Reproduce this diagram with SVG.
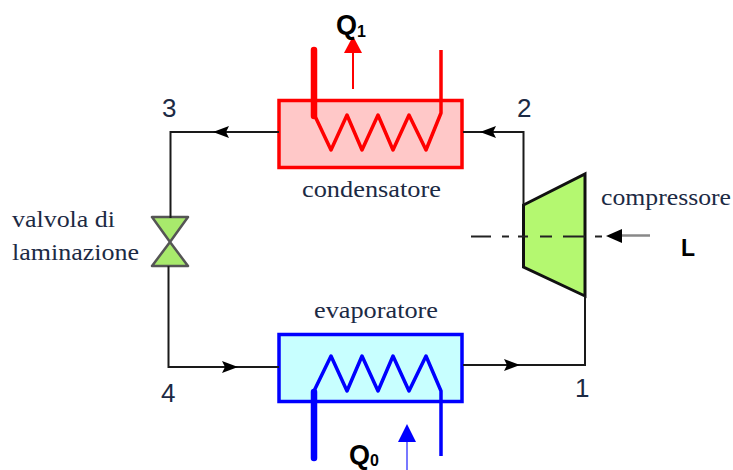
<svg xmlns="http://www.w3.org/2000/svg" width="733" height="470" viewBox="0 0 733 470">
<style>
.pipe{fill:none;stroke:#1a1a1a;stroke-width:2}
.ser{font-family:"Liberation Serif",serif;font-size:24px;fill:#1c2a44}
.num{font-family:"Liberation Sans",sans-serif;font-size:26px;fill:#1c2a44}
.bold{font-family:"Liberation Sans",sans-serif;font-weight:700;font-size:27px;fill:#000}
.sub{font-size:16px}
.arr{fill:#000}
</style>
<rect width="733" height="470" fill="#fff"/>
<g id="condensatore">
<rect x="279" y="100.500" width="183" height="67" fill="#ffc8c8" stroke="#f00" stroke-width="3.500"/>
<path d="M314 114L331 150L347 115L362 150L378 115L393 150L409 115L426 150L441 113V50" fill="none" stroke="#f00" stroke-width="3.500" stroke-linejoin="round"/>
<path d="M314 50V116" fill="none" stroke="#f00" stroke-width="6.500" stroke-linecap="round"/>
<text class="ser" x="302" y="197" textLength="139" lengthAdjust="spacingAndGlyphs">condensatore</text>
</g>
<g id="Q1">
<path d="M353 89V50" stroke="#f00" stroke-width="2" fill="none"/>
<polygon points="344,53 353,36 362,53" fill="#f00"/>
<text class="bold" x="336" y="34">Q<tspan class="sub" dy="3">1</tspan></text>
</g>
<g id="evaporatore">
<rect x="279" y="334.500" width="183" height="67" fill="#c8ffff" stroke="#00f" stroke-width="3.500"/>
<path d="M314 391L331 356L347 391L362 356L378 391L393 356L409 391L426 356L441 391V456" fill="none" stroke="#00f" stroke-width="3.500" stroke-linejoin="round"/>
<path d="M314 392V458" fill="none" stroke="#00f" stroke-width="6.500" stroke-linecap="round"/>
<text class="ser" x="314" y="318" textLength="124" lengthAdjust="spacingAndGlyphs">evaporatore</text>
</g>
<g id="Q0">
<path d="M407 440V470" stroke="#7878ff" stroke-width="2" fill="none"/>
<polygon points="398,442 407,424 416,442" fill="#00f"/>
<text class="bold" x="349" y="464">Q<tspan class="sub" dy="2">0</tspan></text>
</g>
<g id="compressore">
<polygon points="523.500,205 585,174 585,296 523.500,267" fill="#b4f870" stroke="#111" stroke-width="3"/>
<text class="ser" x="601" y="205" textLength="130" lengthAdjust="spacingAndGlyphs">compressore</text>
<text class="bold" x="681" y="256" style="font-size:23px">L</text>
</g>
<g id="valvola">
<polygon points="152,217 188,217 170,242 188,266 152,266 170,242" fill="#a8ea6c" stroke="#555" stroke-width="2.500" stroke-linejoin="round"/>
<text class="ser" x="12" y="227" textLength="103" lengthAdjust="spacingAndGlyphs">valvola di</text>
<text class="ser" x="12" y="260" textLength="127" lengthAdjust="spacingAndGlyphs">laminazione</text>
</g>
<g id="labels">
<text class="num" x="162" y="117">3</text>
<text class="num" x="517" y="117">2</text>
<text class="num" x="161" y="402">4</text>
<text class="num" x="575" y="397">1</text>
</g>
<g id="connectors">
<path class="pipe" d="M279 132H170.500V218"/>
<path class="pipe" d="M463 132H523.500V205"/>
<path class="pipe" d="M168.500 266V367H279"/>
<path class="pipe" d="M463 365H585V296"/>
<polygon class="arr" points="213,132 229,126 226,132 229,138"/>
<polygon class="arr" points="480,132 496,126 493,132 496,138"/>
<polygon class="arr" points="238,367 222,361 225,367 222,373"/>
<polygon class="arr" points="520,365 504,359 507,365 504,371"/>
<path d="M471 236.500H491M502 236.500H509M518 236.500H528M540 236.500H552M563 236.500H585M595 236.500H602" fill="none" stroke="#222" stroke-width="2"/>
<path d="M620 235.500H650" fill="none" stroke="#888" stroke-width="2.500"/>
<polygon class="arr" points="606,236 622,229 622,243"/>
</g>
</svg>
